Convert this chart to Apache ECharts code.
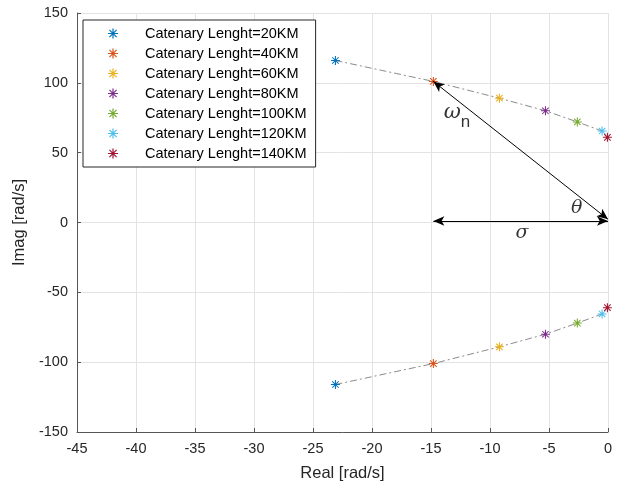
<!DOCTYPE html>
<html>
<head>
<meta charset="utf-8">
<script src="https://cdn.jsdelivr.net/npm/echarts@6/dist/echarts.min.js"></script>
<style>
  html, body { margin: 0; padding: 0; background: #ffffff; }
  #chart { width: 625px; height: 487px; }
</style>
</head>
<body>
<div id="chart"></div>
<script>
// Closed-loop dominant pole pairs for each catenary length
const seriesNames = [
  'Catenary Lenght=20KM', 'Catenary Lenght=40KM', 'Catenary Lenght=60KM',
  'Catenary Lenght=80KM', 'Catenary Lenght=100KM', 'Catenary Lenght=120KM',
  'Catenary Lenght=140KM'
];
const realPart = [-23.1, -14.8, -9.2, -5.3, -2.6, -0.5, -0.05];
const imagPart = [116, 101, 89, 80, 72, 65.5, 61];
const colors = ['#0072BD', '#D95319', '#EDB120', '#7E2F8E', '#77AC30', '#4DBEEE', '#A2142F'];

const xTicks = { min: -45, max: 0, interval: 5 };
const yTicks = { min: -150, max: 150, interval: 50 };

// Asterisk marker ('*') built from four thin bars
const asterisk = 'path://M44,0H56V100H44Z M0,44H100V56H0Z M10,18L18,10L90,82L82,90Z M82,10L90,18L18,90L10,82Z';

const FONT = 'Liberation Sans';
const AX = '#262626';

// Pole trajectory: upper and lower branches (dash-dot)
const upperPath = realPart.map((r, i) => [r, imagPart[i]]);
const lowerPath = realPart.map((r, i) => [r, -imagPart[i]]);

const series = [];
[upperPath, lowerPath].forEach(function (path) {
  series.push({
    type: 'line',
    data: path,
    symbol: 'none',
    silent: true,
    z: 1,
    lineStyle: { color: '#8c8c8c', width: 1, type: [7, 3, 2, 3] }
  });
});

seriesNames.forEach(function (name, i) {
  series.push({
    name: name,
    type: 'scatter',
    symbol: asterisk,
    symbolSize: 9,
    z: 3,
    itemStyle: { color: colors[i], opacity: 1 },
    data: [[realPart[i], imagPart[i]], [realPart[i], -imagPart[i]]]
  });
});

// Geometry annotations: natural frequency vector and real-part span
const wn = { x: realPart[1], y: imagPart[1] };
series.push({
  type: 'line',
  data: [],
  silent: true,
  z: 4,
  markLine: {
    silent: true,
    symbol: ['arrow', 'arrow'],
    symbolSize: [7, 11],
    label: { show: false },
    lineStyle: { color: '#000000', width: 1, type: 'solid' },
    data: [
      [{ coord: [0, 2.3] }, { coord: [wn.x, wn.y] }],
      [{ coord: [wn.x, 1.1] }, { coord: [0, 1.1] }]
    ]
  }
});

// Symbol labels: omega_n, theta, sigma
const annotationText = ['{w|ω}{s|n}', '{g|θ}', '{g|σ}'];
const annotationAt = [[-12.8, 79], [-2.65, 10], [-7.3, -7.3]];
series.push({
  type: 'scatter',
  silent: true,
  symbol: 'circle',
  symbolSize: 1,
  z: 5,
  itemStyle: { color: 'rgba(0,0,0,0)' },
  label: {
    show: true,
    position: 'inside',
    formatter: function (p) { return annotationText[p.dataIndex]; },
    rich: {
      w: { fontFamily: 'DejaVu Serif', fontStyle: 'italic', fontSize: 21, color: '#000' },
      g: { fontFamily: 'DejaVu Serif', fontStyle: 'italic', fontSize: 19, color: '#000' },
      s: { fontFamily: FONT, fontSize: 17, color: '#000', padding: [20, 0, 0, 0] }
    }
  },
  data: annotationAt
});

const chart = echarts.init(document.getElementById('chart'), null, { renderer: 'canvas' });
chart.setOption({
  animation: false,
  backgroundColor: '#ffffff',
  textStyle: { fontFamily: FONT },
  grid: { left: 77, right: 17, top: 13, bottom: 55, containLabel: false },
  legend: {
    data: seriesNames,
    orient: 'vertical',
    left: 83,
    top: 20,
    padding: [6, 9, 6, 25],
    itemWidth: 54,
    itemHeight: 10,
    itemGap: 5,
    backgroundColor: '#ffffff',
    borderColor: AX,
    borderWidth: 1,
    borderRadius: 0,
    textStyle: { fontFamily: FONT, fontSize: 14.5, color: '#000', lineHeight: 14 }
  },
  xAxis: {
    type: 'value',
    min: xTicks.min, max: xTicks.max, interval: xTicks.interval,
    name: 'Real [rad/s]',
    nameLocation: 'middle',
    nameGap: 33,
    nameTextStyle: { fontFamily: FONT, fontSize: 16.5, color: AX },
    axisLine: { show: true, onZero: false, lineStyle: { color: '#555', width: 1 } },
    axisTick: { show: true, inside: true, length: 4, lineStyle: { color: '#555' } },
    axisLabel: { fontFamily: FONT, fontSize: 14.5, color: AX, margin: 9 },
    splitLine: { show: true, lineStyle: { color: '#e3e3e3', width: 1 } }
  },
  yAxis: {
    type: 'value',
    min: yTicks.min, max: yTicks.max, interval: yTicks.interval,
    name: 'Imag [rad/s]',
    nameLocation: 'middle',
    nameGap: 46,
    nameTextStyle: { fontFamily: FONT, fontSize: 16.5, color: AX },
    axisLine: { show: true, onZero: false, lineStyle: { color: '#555', width: 1 } },
    axisTick: { show: true, inside: true, length: 4, lineStyle: { color: '#555' } },
    axisLabel: { fontFamily: FONT, fontSize: 14.5, color: AX, margin: 9 },
    splitLine: { show: true, lineStyle: { color: '#e3e3e3', width: 1 } }
  },
  series: series
});
</script>
</body>
</html>
